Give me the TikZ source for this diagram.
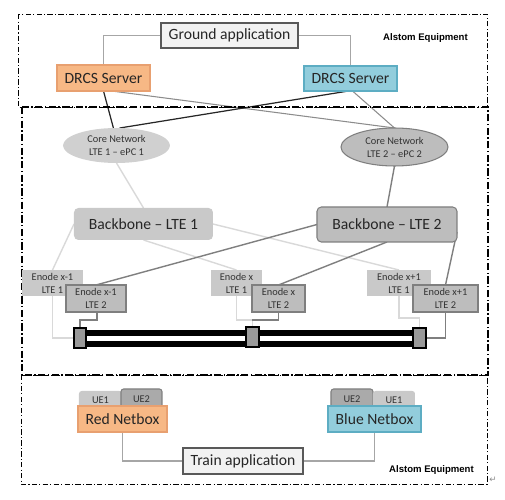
\documentclass[tikz,border=0pt]{standalone}
\usepackage{fontspec}
\setmainfont{Carlito}
\newfontfamily\arialfont{Liberation Sans}
\newfontfamily\dejavufont{DejaVu Sans}
\usetikzlibrary{shapes.geometric,calc}
\pgfdeclarelayer{bg}
\pgfsetlayers{bg,main}
\definecolor{appfill}{HTML}{F2F2F2}
\definecolor{appdraw}{HTML}{595959}
\definecolor{orfill}{HTML}{F7B885}
\definecolor{ordraw}{HTML}{E8A070}
\definecolor{blfill}{HTML}{92CDDC}
\definecolor{bldraw}{HTML}{5DADC3}
\definecolor{lightfill}{HTML}{C9C9C9}
\definecolor{corefill}{HTML}{D0D0D0}
\definecolor{darkfill}{HTML}{BDBDBD}
\definecolor{darkdraw}{HTML}{7F7F7F}
\definecolor{lightwirec}{HTML}{D9D9D9}
\definecolor{darkwirec}{HTML}{7F7F7F}
\definecolor{blackwirec}{HTML}{262626}
\definecolor{graywirec}{HTML}{8C8C8C}
\definecolor{appwirec}{HTML}{A6A6A6}
\begin{document}
\begin{tikzpicture}[x=0.02cm,y=-0.02cm,
  sz/.style 2 args={inner sep=0pt,outer sep=0pt,minimum width=#1*0.02cm,minimum height=#2*0.02cm},
  bigtxt/.style={font=\fontsize{8.9}{10.5}\selectfont,text=black!85},
  smalltxt/.style={font=\fontsize{5.9}{7.4}\selectfont,text=black!80,align=center},
  appbox/.style={bigtxt,fill=appfill,draw=appdraw,line width=0.6pt},
  orbox/.style={bigtxt,fill=orfill,draw=ordraw,line width=0.6pt},
  blbox/.style={bigtxt,fill=blfill,draw=bldraw,line width=0.6pt},
  lteone/.style={smalltxt,fill=lightfill},
  ltetwo/.style={smalltxt,fill=darkfill,draw=darkdraw,line width=0.6pt},
  bbone/.style={bigtxt,fill=lightfill,rounded corners=2.5pt},
  bbtwo/.style={bigtxt,fill=darkfill,draw=darkdraw,line width=0.6pt,rounded corners=2.5pt},
  sqbox/.style={fill=darkdraw!80,draw=black,line width=0.6pt},
  ueone/.style={smalltxt,fill=lightfill,rounded corners=1.5pt},
  uetwo/.style={smalltxt,fill=darkfill!90!black,draw=darkdraw,line width=0.6pt,rounded corners=1.5pt},
  alstom/.style={font=\arialfont\bfseries\fontsize{5.45}{6.5}\selectfont,inner sep=0pt},
  thinframe/.style={line width=0.55pt,dash pattern=on 3pt off 1.3pt on 0.6pt off 1.3pt},
  thickframe/.style={line width=0.9pt,dash pattern=on 4.2pt off 1.4pt on 0.7pt off 1.4pt},
  lightwire/.style={draw=lightwirec,line width=0.8pt},
  darkwire/.style={draw=darkwirec,line width=0.8pt},
  blackwire/.style={draw=blackwirec,line width=0.7pt},
  graywire/.style={draw=graywirec,line width=0.6pt},
  appwire/.style={draw=appwirec,line width=0.6pt}]
\useasboundingbox (0,0) rectangle (505,500);

% frames
\draw[thinframe] (18,14) rectangle (487,107);
\draw[thinframe] (21,375) rectangle (487,484);
\draw[thickframe] (22,107) rectangle (488,375);

% top section
\node[appbox,sz={137}{25}] (ga) at (229.5,35.5) {Ground application};
\node[orbox,sz={93}{26}] (drcsL) at (103.5,78) {DRCS Server};
\node[blbox,sz={93}{25}] (drcsR) at (350.5,78.5) {DRCS Server};
\node[alstom] (al1) at (425.5,38) {Alstom Equipment};

% core networks
\node[ellipse,sz={107}{35},fill=corefill,smalltxt] (core1) at (116.5,145.5) {Core Network\\LTE 1 -- ePC 1};
\node[ellipse,sz={107}{38},fill=darkfill,draw=darkdraw,line width=0.6pt,smalltxt] (core2) at (394.5,147) {Core Network\\LTE 2 -- ePC 2};

% backbones
\node[bbone,sz={139}{32}] (bb1) at (143.5,224) {Backbone -- LTE 1};
\node[bbtwo,sz={140}{35}] (bb2) at (387,224.5) {Backbone -- LTE 2};

% enodes
\node[lteone,sz={61}{26}] (e1a) at (52.5,283) {Enode x-1\\LTE 1};
\node[ltetwo,sz={60}{27}] (e1b) at (96,298.5) {Enode x-1\\LTE 2};
\node[lteone,sz={51}{26}] (e2a) at (236.5,283) {Enode x\\LTE 1};
\node[ltetwo,sz={53}{27}] (e2b) at (278.5,298.5) {Enode x\\LTE 2};
\node[lteone,sz={64}{26}] (e3a) at (399,283) {Enode x+1\\LTE 1};
\node[ltetwo,sz={65}{27}] (e3b) at (445.5,298.5) {Enode x+1\\LTE 2};

% track
\fill[black] (80,330) rectangle (420,336.2);
\fill[black] (80,341) rectangle (420,347);
\node[sqbox,sz={12}{20}] (sqA) at (80,338) {};
\node[sqbox,sz={13}{20}] (sqB) at (252.5,337) {};
\node[sqbox,sz={13}{20}] (sqC) at (419.5,338) {};

% bottom section
\node[ueone,sz={43}{18}] (ue1L) at (100.5,400) {UE1};
\node[uetwo,sz={41}{20}] (ue2L) at (141.5,399) {UE2};
\node[uetwo,sz={42}{20}] (ue2R) at (352,399) {UE2};
\node[ueone,sz={42}{18}] (ue1R) at (394,400) {UE1};
\node[orbox,sz={89}{26}] (red) at (122.5,419) {Red Netbox};
\node[blbox,sz={93}{26}] (blue) at (374.5,419) {Blue Netbox};
\node[appbox,sz={120}{26}] (train) at (243,461) {Train application};
\node[alstom] (al2) at (431.5,470) {Alstom Equipment};
\node[font=\dejavufont\fontsize{5}{6}\selectfont,text=black!45,inner sep=0pt] (ret) at (493,480) {↵};

% connectors
\begin{pgfonlayer}{bg}
\draw[appwire] (ga.west) -| (drcsL.north);
\draw[appwire] (ga.east) -| (drcsR.north);
\draw[graywire] ($(drcsL.south)+(8,0)$) -- (core2.north);
\draw[graywire] ($(drcsR.south)+(2,0)$) -- (core2.north);
\draw[blackwire] (drcsL.south) -- (core1.100);
\draw[blackwire] ($(drcsR.south)+(-2,0)$) -- (core1.80);
\draw[lightwire] (core1.south) -- (bb1.north);
\draw[darkwire] (core2.south) -- (bb2.north);
\draw[lightwire] (bb1.west) -- (e1a.north);
\draw[lightwire] (bb1.south) -- (e2a.north);
\draw[lightwire] (bb1.east) -- (e3a.north);
\draw[darkwire] (bb2.west) -- (e1b.north);
\draw[darkwire] (bb2.south) -- (e2b.north);
\draw[darkwire] ($(bb2.south east)+(0,-10)$) -- (e3b.north);
\draw[lightwire] (e1a.south) |- (sqA.west);
\draw[darkwire] ($(e1b.south west)+(31,0)$) |- ($(sqA.north)+(0,-8)$) -- (sqA.north);
\draw[lightwire] (e2a.south) |- ($(sqB.north)+(0,-7)$) -- (sqB.north);
\draw[darkwire] (e2b.south) |- ($(sqB.north)+(0,-7)$);
\draw[lightwire] (e3a.south) |- ($(sqC.north)+(0,-10)$) -- (sqC.north);
\draw[darkwire] (e3b.south) |- (sqC.east);
\draw[appwire] (red.south) |- (train.west);
\draw[appwire] (blue.south) |- (train.east);
\end{pgfonlayer}
\end{tikzpicture}
\end{document}
